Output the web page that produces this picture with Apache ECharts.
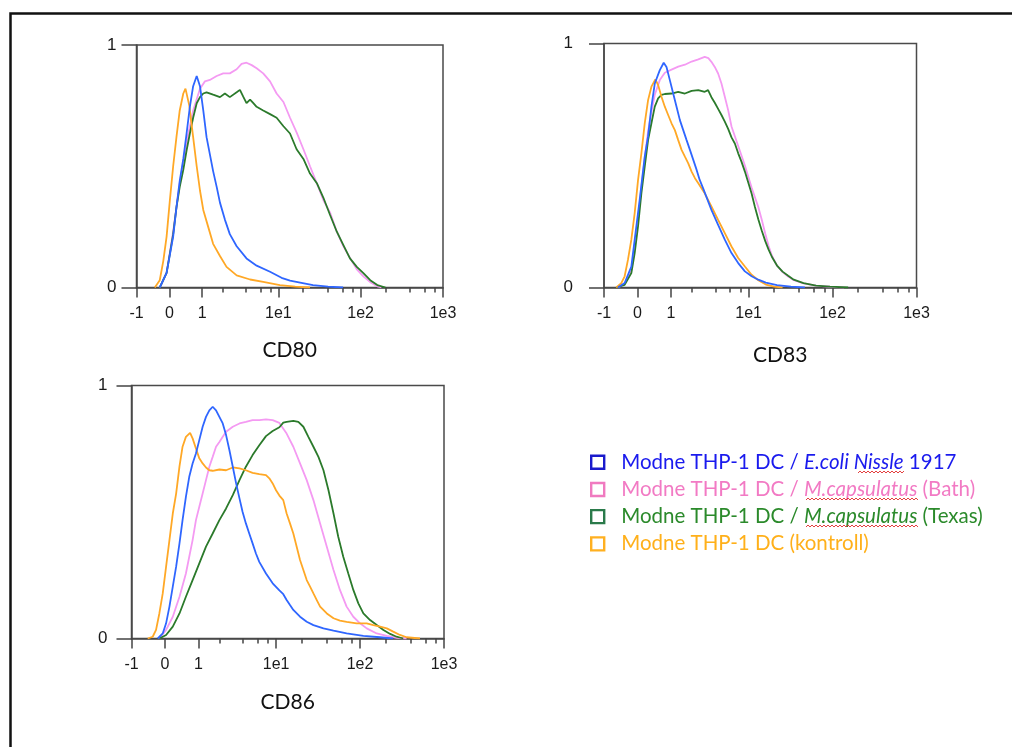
<!DOCTYPE html>
<html>
<head>
<meta charset="utf-8">
<title>CD80 / CD83 / CD86</title>
<script src="https://cdn.jsdelivr.net/npm/echarts@6/dist/echarts.min.js"></script>
<style>
  html, body { margin: 0; padding: 0; background: #fff; }
  #chart { width: 1012px; height: 747px; }
</style>
</head>
<body>
<div id="chart"></div>
<script>
// x values are display channels of the biexponential axis (0..1000 = 0..1e3)
const seriesNames = [
  'Modne THP-1 DC / E.coli Nissle 1917',
  'Modne THP-1 DC / M.capsulatus (Bath)',
  'Modne THP-1 DC / M.capsulatus (Texas)',
  'Modne THP-1 DC (kontroll)'
];
const panelTitles = ['CD80', 'CD83', 'CD86'];
const majorTickValues = [-1, 0, 1, 10, 100, 1000];
const majorTickLabels = ['-1', '0', '1', '1e1', '1e2', '1e3'];
const minorTickValues = [2, 4, 6, 8, 20, 40, 60, 80, 200, 400, 600, 800];
const yTickLabels = ['0', '1'];

// CD80
const cd80Blue = [[-35,0],[-10,0.06],[14,0.21],[26,0.33],[38,0.44],[51,0.53],[63,0.635],[75,0.745],[87,0.83],[100,0.872],[112,0.83],[124,0.73],[136,0.62],[148,0.55],[160,0.48],[173,0.415],[185,0.35],[203,0.28],[221,0.22],[246,0.17],[282,0.12],[319,0.09],[368,0.065],[410,0.04],[441,0.028],[478,0.02],[525,0.01],[580,0.004],[635,0]];
const cd80Bath = [[-35,0],[-10,0.06],[14,0.23],[38,0.43],[63,0.6],[87,0.73],[112,0.82],[130,0.85],[148,0.856],[173,0.872],[197,0.883],[221,0.883],[246,0.9],[264,0.922],[282,0.927],[301,0.917],[319,0.904],[343,0.883],[368,0.85],[392,0.8],[417,0.765],[441,0.7],[465,0.64],[490,0.57],[514,0.5],[539,0.43],[563,0.36],[587,0.31],[612,0.23],[636,0.17],[661,0.12],[685,0.075],[710,0.045],[734,0.022],[760,0.005],[775,0]];
const cd80Texas = [[-35,0],[-10,0.06],[2,0.14],[14,0.22],[26,0.33],[38,0.415],[51,0.485],[63,0.565],[75,0.635],[87,0.7],[100,0.76],[112,0.785],[124,0.8],[136,0.805],[160,0.795],[185,0.785],[203,0.8],[221,0.785],[246,0.805],[258,0.815],[270,0.787],[282,0.76],[295,0.775],[307,0.76],[319,0.745],[343,0.73],[368,0.715],[392,0.7],[417,0.665],[441,0.635],[465,0.57],[490,0.53],[514,0.47],[539,0.43],[563,0.37],[587,0.3],[612,0.23],[636,0.175],[660,0.12],[685,0.085],[710,0.058],[734,0.03],[760,0.01],[790,0]];
const cd80Ctrl = [[-53,0],[-35,0.03],[-22,0.11],[-10,0.21],[2,0.36],[14,0.5],[26,0.62],[38,0.73],[51,0.8],[59,0.82],[73,0.75],[87,0.62],[100,0.5],[112,0.4],[124,0.32],[142,0.25],[160,0.18],[185,0.13],[209,0.085],[246,0.05],[295,0.033],[343,0.023],[404,0.01],[460,0.004],[514,0]];

// CD83
const cd83Blue = [[-70,0],[-46,0.018],[-22,0.086],[-10,0.196],[8,0.36],[26,0.536],[38,0.62],[50,0.741],[62,0.836],[80,0.891],[94,0.921],[104,0.904],[116,0.85],[128,0.795],[140,0.741],[152,0.686],[164,0.645],[176,0.604],[188,0.564],[200,0.523],[212,0.482],[223,0.441],[235,0.407],[265,0.318],[289,0.257],[313,0.196],[337,0.141],[361,0.1],[385,0.066],[409,0.046],[433,0.032],[460,0.02],[500,0.01],[550,0.004],[600,0]];
const cd83Bath = [[-70,0],[-46,0.015],[-22,0.07],[-10,0.16],[2,0.28],[14,0.41],[26,0.53],[38,0.64],[50,0.72],[62,0.79],[80,0.85],[98,0.88],[122,0.893],[146,0.905],[170,0.913],[194,0.926],[218,0.935],[241,0.945],[254,0.94],[265,0.925],[277,0.904],[289,0.877],[301,0.836],[313,0.782],[325,0.727],[337,0.66],[361,0.58],[385,0.5],[409,0.41],[433,0.33],[445,0.28],[458,0.22],[470,0.17],[482,0.13],[500,0.09],[520,0.063],[540,0.045],[560,0.03],[595,0.017],[640,0.008],[690,0.003],[740,0]];
const cd83Texas = [[-76,0],[-46,0.011],[-22,0.059],[-10,0.141],[2,0.25],[14,0.386],[26,0.495],[38,0.604],[50,0.673],[62,0.741],[74,0.775],[86,0.789],[98,0.793],[122,0.795],[146,0.802],[170,0.795],[194,0.806],[218,0.809],[241,0.802],[253,0.809],[265,0.78],[277,0.757],[290,0.73],[301,0.707],[313,0.68],[325,0.65],[337,0.615],[349,0.59],[361,0.55],[373,0.515],[385,0.475],[397,0.43],[409,0.385],[421,0.33],[433,0.28],[445,0.235],[458,0.19],[470,0.155],[482,0.125],[500,0.09],[520,0.065],[540,0.048],[560,0.032],[595,0.018],[640,0.008],[690,0.004],[755,0]];
const cd83Ctrl = [[-76,0],[-58,0.018],[-46,0.046],[-34,0.114],[-22,0.196],[-10,0.305],[2,0.44],[14,0.55],[26,0.673],[38,0.768],[50,0.823],[64,0.853],[74,0.83],[86,0.782],[98,0.741],[110,0.707],[122,0.673],[134,0.645],[146,0.604],[158,0.564],[170,0.536],[182,0.509],[194,0.475],[206,0.448],[218,0.427],[241,0.386],[265,0.332],[289,0.277],[313,0.223],[337,0.168],[361,0.121],[385,0.086],[409,0.052],[433,0.03],[460,0.012],[490,0.004],[520,0]];

// CD86
const cd86Blue = [[-26,0],[-8,0.02],[4,0.06],[16,0.126],[28,0.205],[40,0.284],[52,0.376],[63,0.468],[75,0.56],[87,0.639],[99,0.692],[111,0.731],[123,0.784],[135,0.837],[147,0.876],[159,0.902],[171,0.916],[183,0.902],[195,0.876],[207,0.85],[219,0.804],[231,0.744],[243,0.679],[255,0.613],[267,0.554],[278,0.501],[290,0.455],[302,0.415],[314,0.376],[326,0.336],[338,0.303],[362,0.257],[386,0.218],[410,0.19],[424,0.175],[436,0.152],[448,0.132],[460,0.113],[484,0.086],[508,0.066],[532,0.053],[568,0.04],[604,0.031],[651,0.02],[711,0.01],[771,0.005],[818,0]];
const cd86Bath = [[-20,0],[4,0.034],[28,0.086],[52,0.165],[75,0.257],[87,0.323],[99,0.389],[111,0.468],[123,0.521],[135,0.573],[147,0.626],[159,0.679],[171,0.718],[183,0.758],[195,0.777],[207,0.797],[219,0.817],[243,0.837],[267,0.85],[290,0.856],[314,0.863],[338,0.863],[362,0.866],[386,0.863],[410,0.852],[436,0.81],[460,0.758],[484,0.692],[508,0.626],[532,0.547],[556,0.455],[580,0.363],[604,0.271],[627,0.192],[651,0.126],[675,0.086],[699,0.06],[723,0.04],[759,0.02],[795,0.01],[830,0.003],[866,0]];
const cd86Texas = [[-20,0],[4,0.014],[28,0.047],[52,0.099],[75,0.165],[99,0.231],[123,0.297],[147,0.363],[171,0.415],[195,0.468],[219,0.514],[243,0.567],[267,0.626],[290,0.679],[314,0.725],[338,0.764],[362,0.8],[386,0.82],[410,0.835],[424,0.853],[436,0.856],[460,0.86],[478,0.856],[496,0.837],[514,0.797],[532,0.758],[550,0.718],[568,0.665],[586,0.586],[604,0.494],[621,0.402],[639,0.323],[657,0.257],[675,0.192],[693,0.139],[711,0.099],[735,0.073],[759,0.053],[783,0.034],[807,0.018],[830,0.007],[854,0]];
const cd86Ctrl = [[-62,0],[-44,0.007],[-32,0.034],[-20,0.1],[-8,0.178],[4,0.284],[16,0.389],[28,0.494],[40,0.573],[52,0.68],[63,0.758],[75,0.797],[90,0.813],[99,0.791],[111,0.751],[123,0.712],[135,0.692],[147,0.676],[159,0.665],[171,0.663],[195,0.668],[219,0.665],[243,0.676],[267,0.672],[290,0.665],[314,0.655],[338,0.65],[362,0.646],[374,0.633],[386,0.613],[398,0.586],[410,0.565],[424,0.547],[436,0.494],[448,0.455],[460,0.415],[472,0.363],[484,0.31],[496,0.271],[508,0.231],[520,0.205],[532,0.178],[544,0.152],[556,0.126],[580,0.099],[604,0.08],[627,0.071],[651,0.066],[687,0.06],[723,0.06],[747,0.053],[771,0.047],[795,0.04],[818,0.027],[842,0.014],[866,0.005],[914,0]];

// [blue, pink, green, orange] per panel
const panelData = [
  [cd80Blue, cd80Bath, cd80Texas, cd80Ctrl],
  [cd83Blue, cd83Bath, cd83Texas, cd83Ctrl],
  [cd86Blue, cd86Bath, cd86Texas, cd86Ctrl]
];

const lineColors = ['#2f66ff', '#f49af2', '#2b7a2b', '#ffa826'];
const legendText = ['#1a1aee', '#f27ac4', '#2b8a2b', '#ffb01a'];
const legendBox = ['#1a1acc', '#f07ac0', '#2a7a4a', '#ffb020'];

// biexponential (arcsinh) display transform
const C = 0.95;
function toChannel(v) {
  return 1000 * Math.asinh(v / C) / Math.asinh(1000 / C);
}
const majorPos = majorTickValues.map(toChannel);
const minorPos = minorTickValues.map(toChannel);
const xMin = toChannel(-1);

// plot boxes and label offsets
const panels = [
  { left: 136.5, top: 45, width: 306.5, height: 242.5, yMargin: 20, nameGap: 52, namePad: 0 },
  { left: 604, top: 43.5, width: 312.5, height: 244, yMargin: 31, nameGap: 57, namePad: 40 },
  { left: 131.5, top: 385.5, width: 312.5, height: 253, yMargin: 24, nameGap: 53, namePad: 0 }
];

const tickFont = { fontFamily: 'Liberation Sans', fontSize: 16, color: '#1a1a1a' };
const axisGray = '#4a4a4a';

const chart = echarts.init(document.getElementById('chart'));

const grid = [], xAxis = [], yAxis = [], series = [];
panels.forEach(function(p, i) {
  grid.push({
    left: p.left, top: p.top, width: p.width, height: p.height,
    show: true, borderColor: axisGray, borderWidth: 1.5, backgroundColor: 'transparent'
  });
  // major ticks + labels
  xAxis.push({
    type: 'value', gridIndex: i, min: xMin, max: 1000, position: 'bottom',
    name: panelTitles[i], nameLocation: 'middle', nameGap: p.nameGap,
    nameTextStyle: { fontFamily: 'Lato', fontSize: 21, color: '#111', padding: [0, 0, 0, p.namePad] },
    axisLine: { show: true, onZero: false, lineStyle: { color: axisGray, width: 1.5 } },
    axisTick: { show: true, customValues: majorPos, length: 10, lineStyle: { color: '#444', width: 1.5 } },
    axisLabel: {
      customValues: majorPos, margin: 18, ...tickFont,
      formatter: function(v) {
        const k = majorPos.findIndex(function(m) { return Math.abs(m - v) < 1e-6; });
        return k >= 0 ? majorTickLabels[k] : '';
      }
    },
    splitLine: { show: false }
  });
  // minor ticks
  xAxis.push({
    type: 'value', gridIndex: i, min: xMin, max: 1000, position: 'bottom',
    axisLine: { show: false, onZero: false },
    axisTick: { show: true, customValues: minorPos, length: 5, lineStyle: { color: '#444', width: 1.5 } },
    axisLabel: { show: false },
    splitLine: { show: false }
  });
  yAxis.push({
    type: 'value', gridIndex: i, min: 0, max: 1, interval: 1, position: 'left',
    axisLine: { show: true, onZero: false, lineStyle: { color: axisGray, width: 1.5 } },
    axisTick: { show: true, length: 15, lineStyle: { color: '#444', width: 1.5 } },
    axisLabel: { margin: p.yMargin, ...tickFont, fontSize: 17,
      formatter: function(v) { return yTickLabels[v]; } },
    splitLine: { show: false }
  });
  // draw order: pink, green, orange, blue
  [1, 2, 3, 0].forEach(function(s) {
    series.push({
      type: 'line', name: seriesNames[s],
      xAxisIndex: i * 2, yAxisIndex: i,
      data: panelData[i][s],
      showSymbol: false, symbol: 'none', silent: true,
      lineStyle: { color: lineColors[s], width: 1.8 },
      itemStyle: { color: lineColors[s] }
    });
  });
});

const italicPart = ['E.coli Nissle', 'M.capsulatus', 'M.capsulatus', null];
const legendFont = { fontFamily: 'Lato', fontSize: 20.5 };

// red spell-check squiggle under a word
function squiggle(x0, x1, y) {
  const pts = [];
  for (let x = x0, k = 0; x <= x1; x += 2, k++) {
    pts.push([x, y + (k % 2 ? -1 : 1)]);
  }
  return {
    type: 'polyline', silent: true, z: 10,
    shape: { points: pts },
    style: { stroke: '#e02a2a', lineWidth: 0.9, fill: null }
  };
}

chart.setOption({
  animation: false,
  backgroundColor: '#fff',
  grid: grid,
  xAxis: xAxis,
  yAxis: yAxis,
  legend: {
    orient: 'vertical', left: 590, top: 451, padding: 0,
    icon: 'rect', itemWidth: 13, itemHeight: 13, itemGap: 4.7,
    selectedMode: false,
    textStyle: {
      ...legendFont, lineHeight: 22.5, padding: [0, 0, 0, 12],
      rich: {
        n: { ...legendFont },
        i: { ...legendFont, fontStyle: 'italic' }
      }
    },
    formatter: function(name) {
      const k = seriesNames.indexOf(name);
      const it = italicPart[k];
      if (!it) return '{n|' + name + '}';
      const at = name.indexOf(it);
      return '{n|' + name.slice(0, at) + '}{i|' + it + '}{n|' + name.slice(at + it.length) + '}';
    },
    data: seriesNames.map(function(n, k) {
      return {
        name: n,
        itemStyle: { color: '#fff', borderColor: legendBox[k], borderWidth: 2.4 },
        textStyle: { color: legendText[k] }
      };
    })
  },
  graphic: [
    {
      type: 'rect', silent: true, z: -1,
      shape: { x: 10.5, y: 13.5, width: 1200, height: 1000 },
      style: { fill: 'none', stroke: '#111', lineWidth: 2.5 }
    },
    squiggle(858, 904, 472),
    squiggle(806, 918, 499),
    squiggle(806, 918, 526)
  ],
  series: series
});
</script>
</body>
</html>
